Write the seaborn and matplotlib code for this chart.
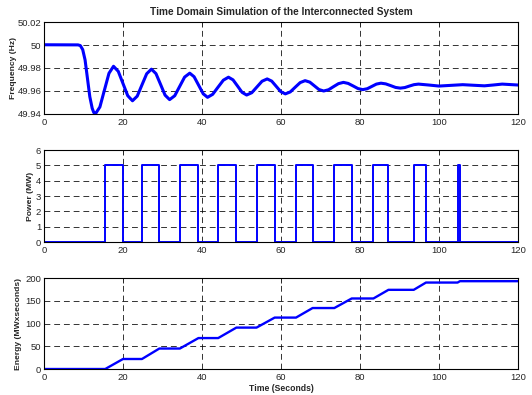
import numpy as np
import pandas as pd
import matplotlib
matplotlib.use('Agg')
import matplotlib.pyplot as plt
import seaborn as sns

# ------------------------------------------------------------
# Data
# ------------------------------------------------------------
freq_t = [0, 8.6, 9.2, 9.8, 10.4, 11.0, 11.6, 12.2, 12.6, 13.0,
          14.15, 15.3, 16.45, 17.6,
          18.8, 20.0, 21.2, 22.4,
          23.6, 24.8, 26.0, 27.2,
          28.35, 29.5, 30.65, 31.8,
          33.1, 34.35, 35.6, 36.9,
          38.0, 39.15, 40.3, 41.4,
          42.7, 44.05, 45.4, 46.7,
          47.85, 49.0, 50.15, 51.3,
          52.6, 53.9, 55.2, 56.5,
          57.65, 58.8, 59.95, 61.1,
          62.35, 63.6, 64.85, 66.1,
          67.3, 68.45, 69.6, 70.8,
          72.05, 73.3, 74.55, 75.8,
          77.0, 78.25, 79.5, 80.7,
          81.85, 83.0, 84.15, 85.3,
          86.5, 87.75, 89.0, 90.2,
          91.35, 92.5, 93.65, 94.8,
          97.4, 100, 103, 106, 108.7, 111.5, 113.7, 116, 120]
freq_hz = [50.0002, 50.0001, 49.9995, 49.9960, 49.9870, 49.9710, 49.9550, 49.9450, 49.9413, 49.9400,
           49.9461, 49.9608, 49.9754, 49.9815,
           49.9771, 49.9665, 49.9559, 49.9515,
           49.9555, 49.9653, 49.9750, 49.9790,
           49.9751, 49.9658, 49.9564, 49.9525,
           49.9559, 49.9640, 49.9721, 49.9755,
           49.9724, 49.9650, 49.9576, 49.9545,
           49.9571, 49.9633, 49.9694, 49.9720,
           49.9697, 49.9643, 49.9588, 49.9565,
           49.9585, 49.9635, 49.9685, 49.9705,
           49.9686, 49.9640, 49.9594, 49.9575,
           49.9592, 49.9633, 49.9673, 49.9690,
           49.9677, 49.9645, 49.9613, 49.9600,
           49.9611, 49.9638, 49.9664, 49.9675,
           49.9666, 49.9644, 49.9621, 49.9612,
           49.9620, 49.9640, 49.9660, 49.9668,
           49.9662, 49.9647, 49.9631, 49.9625,
           49.9630, 49.9643, 49.9655, 49.9660,
           49.9652, 49.9643, 49.9649, 49.9655, 49.9650, 49.9645, 49.9652, 49.9660, 49.9652]

# pulse switching instants (step, held until next instant)
power_t = [0, 15.5, 20.0, 24.8, 29.2, 34.4, 39.1, 44.1, 48.7, 53.8, 58.4,
           63.8, 68.0, 73.5, 77.9, 83.4, 87.2, 93.6, 96.7, 104.7, 105.3, 120]
power_mw = [0, 5, 0, 5, 0, 5, 0, 5, 0, 5, 0,
            5, 0, 5, 0, 5, 0, 5, 0, 5, 0, 0]

energy_t = [0, 15.5, 20.0, 24.8, 29.2, 34.4, 39.1, 44.1, 48.7, 53.8, 58.4,
            63.8, 68.0, 73.5, 77.9, 83.4, 87.2, 93.6, 96.7, 104.7, 105.3, 120]
energy_mws = [0, 0, 22, 22, 45, 45, 68, 68, 91, 91, 113,
              113, 134, 134, 155, 155, 174, 174, 190, 190, 193, 193]

x_ticks = [0, 20, 40, 60, 80, 100, 120]
freq_ticks = [49.94, 49.96, 49.98, 50, 50.02]
freq_ticklabels = ['49.94', '49.96', '49.98', '50', '50.02']
power_ticks = [0, 1, 2, 3, 4, 5, 6]
energy_ticks = [0, 50, 100, 150, 200]

# ------------------------------------------------------------
# Style (MATLAB-like look)
# ------------------------------------------------------------
sns.set_style('white')
plt.rcParams['font.family'] = ['Liberation Sans', 'DejaVu Sans']
plt.rcParams['xtick.direction'] = 'in'
plt.rcParams['ytick.direction'] = 'in'
plt.rcParams['xtick.top'] = True
plt.rcParams['ytick.right'] = True

fig = plt.figure(figsize=(5.32, 3.95), dpi=100)
ax1 = fig.add_axes([0.0827, 0.7114, 0.891, 0.2329])
ax2 = fig.add_axes([0.0827, 0.3873, 0.891, 0.2329])
ax3 = fig.add_axes([0.0827, 0.0658, 0.891, 0.2304])

df_f = pd.DataFrame({'t': freq_t, 'f': freq_hz})
df_p = pd.DataFrame({'t': power_t, 'p': power_mw})
df_e = pd.DataFrame({'t': energy_t, 'e': energy_mws})

sns.lineplot(data=df_f, x='t', y='f', ax=ax1, color='#0000ff', linewidth=2.2)
sns.lineplot(data=df_p, x='t', y='p', ax=ax2, color='#0000ff', linewidth=1.4,
             drawstyle='steps-post')
sns.lineplot(data=df_e, x='t', y='e', ax=ax3, color='#0000ff', linewidth=1.7)

ax1.set_ylim(49.94, 50.02)
ax1.set_yticks(freq_ticks)
ax1.set_yticklabels(freq_ticklabels)
ax2.set_ylim(0, 6)
ax2.set_yticks(power_ticks)
ax3.set_ylim(0, 200)
ax3.set_yticks(energy_ticks)

for ax in (ax1, ax2, ax3):
    ax.set_xlim(0, 120)
    ax.set_xticks(x_ticks)
    ax.grid(True, color='black', linestyle=(0, (6, 4)), linewidth=0.7, alpha=0.8)
    ax.tick_params(labelsize=6.8, length=3.6, width=0.7)
    ax.tick_params(axis='x', pad=3)
    ax.tick_params(axis='y', pad=2)
    for s in ax.spines.values():
        s.set_color('black')
        s.set_linewidth(0.8)
    ax.set_xlabel('')

ax1.set_title('Time Domain Simulation of the Interconnected System',
              fontsize=7.3, fontweight='bold', pad=5)
ax1.set_ylabel('Frequency (Hz)', fontsize=6.1, fontweight='bold')
ax2.set_ylabel('Power (MW)', fontsize=6.1, fontweight='bold')
ax3.set_ylabel('Energy (MWxseconds)', fontsize=6.1, fontweight='bold')
ax1.yaxis.set_label_coords(-0.057, 0.5)
ax2.yaxis.set_label_coords(-0.022, 0.5)
ax3.yaxis.set_label_coords(-0.046, 0.5)
ax3.set_xlabel('Time (Seconds)', fontsize=6.2, fontweight='bold', labelpad=1)

fig.savefig('out.png', dpi=100)
